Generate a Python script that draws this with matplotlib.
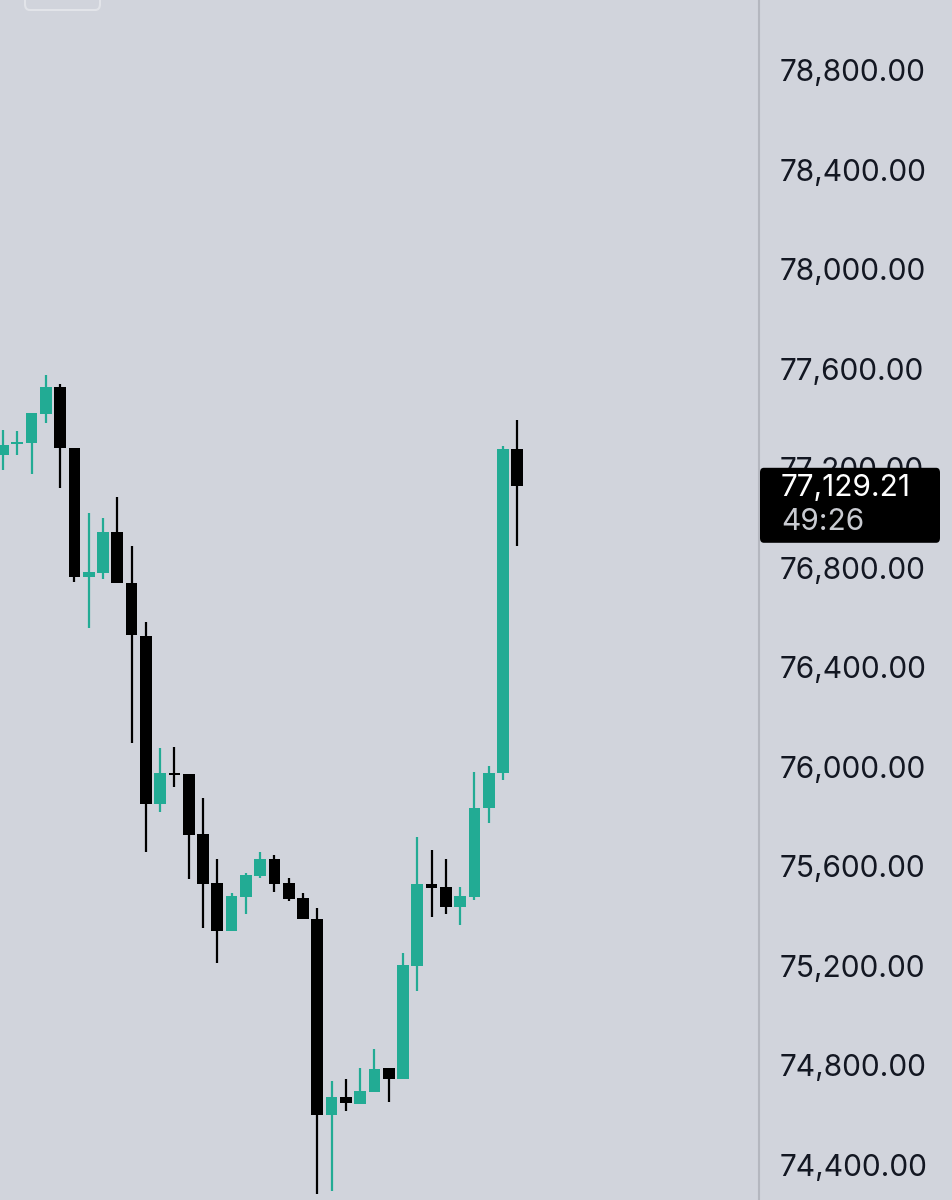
import matplotlib
matplotlib.use("Agg")
import matplotlib.pyplot as plt
from matplotlib.patches import FancyBboxPatch
import numpy as np

# ---- data ----
opens  = [77253, 77297, 77301, 77418, 77526, 77281, 76763, 76779, 76944, 76739,
          76526, 75851, 75975, 75971, 75730, 75533, 75340, 75477, 75561, 75630,
          75533, 75473, 75389, 74601, 74673, 74645, 74693, 74790, 74746, 75200,
          75529, 75517, 75437, 75477, 75835, 75975, 77277]
highs  = [77353, 77349, 77422, 77574, 77538, 77281, 77020, 77000, 77084, 76887,
          76582, 76076, 76080, 75971, 75875, 75630, 75493, 75573, 75658, 75646,
          75553, 75493, 75433, 74737, 74746, 74790, 74866, 74790, 75252, 75718,
          75666, 75630, 75517, 75979, 76003, 77289, 77394]
lows   = [77193, 77253, 77177, 77382, 77120, 76743, 76558, 76755, 76739, 76096,
          75658, 75818, 75919, 75549, 75352, 75212, 75340, 75409, 75553, 75497,
          75461, 75389, 74283, 74296, 74617, 74645, 74693, 74653, 74746, 75099,
          75397, 75409, 75364, 75465, 75774, 75947, 76887]
closes = [77293, 77305, 77422, 77526, 77281, 76763, 76783, 76944, 76739, 76530,
          75851, 75975, 75967, 75726, 75529, 75340, 75481, 75565, 75630, 75529,
          75469, 75389, 74601, 74673, 74649, 74697, 74786, 74746, 75204, 75529,
          75513, 75437, 75481, 75835, 75975, 77277, 77129.21]
price_ticks = [74400, 74800, 75200, 75600, 76000, 76400, 76800, 77200, 77600, 78000, 78400, 78800]
last_price_text = "77,129.21"
countdown_text = "49:26"

# ---- style ----
BG = "#d1d4dc"
UP = "#22ab94"
DOWN = "#000000"
TEXT = "#131722"
W, H = 953, 1200
FS = 21.5

plt.rcParams['font.family'] = ['Inter', 'DejaVu Sans']

fig = plt.figure(figsize=(W / 100, H / 100), dpi=100, facecolor=BG)
ax = fig.add_axes([0, 0, 759 / W, 1])
ax.set_facecolor(BG)

x = np.arange(len(opens))
colors = [UP if c >= o else DOWN for o, c in zip(opens, closes)]
bottoms = [min(o, c) for o, c in zip(opens, closes)]
heights = [max(abs(c - o), 10) for o, c in zip(opens, closes)]

ax.vlines(x, lows, highs, colors=colors, linewidth=1.6, zorder=2)
ax.bar(x, heights, bottom=bottoms, width=0.82, color=colors, linewidth=0, zorder=3)

ax.set_xlim(-0.21, 52.92)
ax.set_ylim(74259.3, 79081.3)

# right price scale
ax.yaxis.tick_right()
ax.set_yticks(price_ticks)
ax.set_yticklabels([f"{t:,.2f}" for t in price_ticks])
ax.tick_params(axis='y', length=0, pad=14.5, labelsize=FS, labelcolor=TEXT)
ax.set_xticks([])
for s in ['top', 'bottom', 'left']:
    ax.spines[s].set_visible(False)
ax.spines['right'].set_color("#b4b7bf")
ax.spines['right'].set_linewidth(1.5)

# last price tag
fig.canvas.draw()
py = ax.transData.transform((0, closes[-1]))[1]  # display pixels from bottom
box_top = py + 18
box_bot = py - 57
tag = FancyBboxPatch((760 / W, box_bot / H), 180 / W, (box_top - box_bot) / H,
                     boxstyle="round,pad=0,rounding_size=0.004",
                     transform=fig.transFigure, facecolor="#000000",
                     edgecolor="none", zorder=10)
fig.patches.append(tag)
fig.text(781 / W, (py - 10) / H, last_price_text, color="white", fontsize=FS,
         va='baseline', ha='left', zorder=11)
fig.text(781 / W, (py - 44) / H, countdown_text, color="#c9cbd1", fontsize=FS,
         va='baseline', ha='left', zorder=11)

# faint top-left box outline (partially cut off)
fig.patches.append(FancyBboxPatch((25 / W, (H - 10) / H), 75 / W, 30 / H,
                                  boxstyle="round,pad=0,rounding_size=0.005",
                                  transform=fig.transFigure, facecolor="none",
                                  edgecolor="#e2e4e9", linewidth=1.5, zorder=5))

fig.savefig("out.png", dpi=100, facecolor=BG)
